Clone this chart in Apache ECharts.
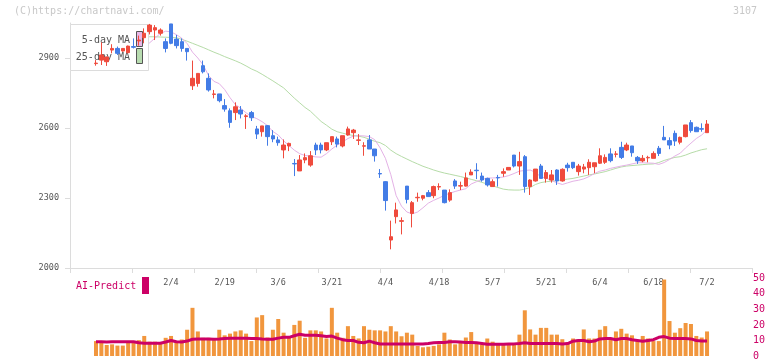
<!DOCTYPE html>
<html><head><meta charset="utf-8">
<script src="https://cdn.jsdelivr.net/npm/echarts@6/dist/echarts.min.js"></script>
<style>html,body{margin:0;padding:0;background:#fff}#c{width:772px;height:361px}</style>
</head><body><div id="c"></div>
<script>
const dates = ['1/15','1/16','1/17','1/20','1/21','1/22','1/23','1/24','1/27','1/28','1/29','1/30','1/31',
'2/3','2/4','2/5','2/6','2/7','2/10','2/12','2/13','2/14','2/17','2/18','2/19','2/20','2/21','2/25','2/26','2/27','2/28',
'3/3','3/4','3/5','3/6','3/7','3/10','3/11','3/12','3/13','3/14','3/17','3/18','3/19','3/21','3/24','3/25','3/26','3/27','3/28','3/31',
'4/1','4/2','4/3','4/4','4/7','4/8','4/9','4/10','4/11','4/14','4/15','4/16','4/17','4/18','4/21','4/22','4/23','4/24','4/25','4/28','4/30',
'5/1','5/2','5/7','5/8','5/9','5/12','5/13','5/14','5/15','5/16','5/19','5/20','5/21','5/22','5/23','5/26','5/27','5/28','5/29','5/30',
'6/2','6/3','6/4','6/5','6/6','6/9','6/10','6/11','6/12','6/13','6/16','6/17','6/18','6/19','6/20','6/23','6/24','6/25','6/26','6/27','6/30',
'7/1','7/2'];
const openP = [2876,2891,2884,2934,2941,2930,2923,2949,2973,2987,3013,3020,3006,2970,3046,2981,2970,2941,2781,2791,2867,2813,2744,2746,2696,2674,2666,2677,2649,2666,2596,2584,2610,2567,2549,2506,2523,2448,2416,2463,2441,2527,2527,2506,2541,2553,2523,2570,2580,2547,2522,2549,2510,2405,2370,2120,2220,2200,2351,2234,2301,2299,2323,2310,2347,2334,2291,2373,2351,2351,2399,2419,2394,2384,2349,2388,2406,2420,2484,2437,2477,2349,2373,2437,2384,2377,2420,2373,2441,2453,2413,2424,2430,2434,2449,2453,2489,2487,2517,2506,2523,2474,2459,2472,2470,2513,2560,2546,2577,2539,2563,2623,2603,2597,2580];
const closeP = [2878,2913,2904,2941,2920,2941,2951,2946,2977,3006,3041,3030,3020,2941,2963,2953,2941,2927,2813,2834,2841,2763,2746,2717,2681,2624,2691,2660,2652,2644,2574,2609,2563,2553,2537,2527,2534,2446,2463,2473,2481,2506,2506,2537,2563,2531,2567,2596,2591,2549,2524,2510,2481,2403,2289,2134,2249,2203,2294,2280,2303,2310,2306,2349,2349,2280,2323,2351,2353,2386,2411,2417,2377,2356,2370,2386,2413,2431,2437,2456,2349,2377,2424,2384,2409,2399,2373,2423,2430,2430,2437,2433,2453,2451,2481,2474,2460,2489,2474,2527,2494,2459,2470,2474,2491,2491,2549,2527,2544,2560,2613,2589,2584,2595,2617];
const lowP = [2867,2870,2866,2920,2913,2927,2920,2941,2953,2963,3001,2977,2996,2924,2959,2941,2927,2889,2763,2777,2834,2756,2727,2710,2670,2601,2634,2641,2596,2630,2553,2563,2524,2539,2524,2470,2501,2394,2416,2449,2434,2484,2491,2501,2527,2517,2517,2567,2553,2527,2481,2510,2456,2386,2246,2080,2191,2144,2277,2174,2284,2290,2306,2299,2334,2277,2284,2339,2334,2349,2399,2381,2370,2349,2349,2349,2391,2420,2431,2399,2323,2313,2370,2384,2366,2366,2356,2370,2413,2424,2396,2406,2399,2406,2446,2446,2453,2474,2467,2501,2477,2446,2453,2453,2470,2480,2549,2509,2523,2530,2560,2580,2584,2584,2580];
const highP = [2891,2967,2906,2959,2949,2941,2953,2984,2996,3027,3046,3041,3027,2984,3046,2999,2984,2941,2889,2834,2889,2834,2763,2746,2724,2684,2710,2694,2659,2673,2609,2609,2613,2591,2563,2551,2537,2467,2484,2491,2501,2537,2537,2537,2563,2563,2567,2606,2596,2574,2539,2570,2510,2424,2372,2203,2280,2217,2351,2287,2323,2313,2334,2353,2363,2334,2337,2381,2370,2409,2423,2449,2409,2387,2380,2399,2427,2431,2484,2498,2484,2380,2424,2446,2420,2420,2423,2427,2451,2453,2446,2446,2466,2451,2513,2487,2513,2501,2541,2537,2523,2480,2484,2481,2500,2523,2609,2560,2589,2563,2613,2634,2606,2620,2634];
const ma5 = [null,null,null,null,null,null,null,null,null,2945,2965,2985,3005,3015,3012,3000,2985,2962,2925,2900,2870,2825,2800,2790,2765,2730,2700,2685,2665,2650,2640,2627,2610,2585,2570,2545,2525,2505,2490,2482,2480,2476,2475,2490,2510,2527,2540,2555,2565,2567,2566,2563,2550,2515,2470,2400,2310,2265,2240,2232,2240,2258,2278,2290,2300,2312,2320,2328,2334,2340,2360,2370,2380,2385,2386,2387,2390,2396,2405,2415,2418,2420,2410,2390,2385,2375,2365,2358,2365,2372,2376,2382,2392,2405,2415,2420,2427,2432,2437,2441,2446,2451,2451,2450,2449,2444,2452,2465,2480,2492,2515,2535,2555,2570,2592];
const ma25 = [null,null,null,null,null,null,null,null,null,2992,2991,2991,2990,2989,2988,2987,2980,2972,2963,2954,2945,2935,2925,2916,2906,2897,2888,2878,2866,2853,2843,2830,2816,2802,2787,2772,2750,2728,2708,2688,2672,2650,2628,2612,2595,2584,2578,2572,2568,2565,2560,2552,2543,2537,2525,2505,2490,2478,2467,2456,2446,2436,2428,2420,2413,2407,2402,2397,2392,2386,2380,2374,2367,2360,2352,2345,2338,2335,2334,2334,2338,2345,2358,2366,2370,2372,2374,2378,2381,2384,2389,2394,2399,2403,2408,2413,2420,2427,2433,2437,2439,2441,2443,2445,2446,2452,2461,2468,2474,2477,2484,2493,2500,2507,2511];
const volume = [9.6,9.6,7.1,7.5,6.7,6.7,9.2,9.2,10.2,12.9,9.2,9.2,8.1,11.7,12.9,9.2,10.6,16.9,31,15.8,11.7,11.7,10.2,16.9,13.3,14.4,15.8,16.5,14.4,9.6,24.8,26.3,11.9,16.9,23.8,15,11.9,20,22.7,11.7,16.5,16.5,15.8,11.3,31,15,11.7,19.2,12.9,11.3,19.2,16.9,16.5,16.5,15.8,19.2,15.8,12.7,15,13.75,6.5,5.6,6,6.5,7.5,15,10.6,7.5,9.6,11.9,15.4,8.75,7.5,11.25,9.2,7.5,7.5,7.5,7.5,13.75,29.4,17.1,13.75,18.1,18.1,13.75,13.75,10.8,8.75,11.25,10.6,17.1,11.25,11.25,16.9,19.2,11.25,15.8,17.5,14.4,13.3,9.6,12.9,11.25,9.6,9.6,49.2,22.5,15,17.9,21.25,20.6,12.9,11.9,15.8];
const aiPredict = [9.2,9.2,9.0,9.2,9.2,9.2,9.2,9.2,8.5,8.2,8.2,8.2,8.2,9.0,10.0,9.2,9.0,9.6,10.8,11.0,11.0,11.0,10.8,11.0,11.3,11.5,11.5,11.5,11.5,11.3,11.3,11.0,10.8,10.8,11.5,12.0,12.0,13.0,14.0,13.3,13.3,13.3,13.0,12.5,12.8,11.5,10.5,10.0,10.0,8.8,8.5,9.6,8.5,7.7,7.7,7.7,7.7,7.7,7.7,7.7,7.7,7.7,8.0,8.5,8.75,8.75,9.2,9.2,9.0,8.75,8.75,8.5,8.0,7.5,7.5,7.5,7.5,7.7,7.8,8.1,8.5,8.1,8.1,8.1,8.1,8.1,8.1,7.7,8.0,9.5,10,10,9.2,9.6,11.0,11.25,11.25,10.5,11.25,11.25,10.5,10.0,9.5,10.0,10.5,12.0,12.5,11.5,11.25,11.25,11.25,11.0,10.0,9.6,9.6];
const priceTicks = [2000,2300,2600,2900];
const volTicks = [0,10,20,30,40,50];
const dateLabelStart = 14, dateLabelStep = 10;

const MONO = 'DejaVu Sans Mono';
const UP = '#ef4b3d', DOWN = '#437ce6';
const candles = dates.map((d, i) => [openP[i], closeP[i], lowP[i], highP[i]]);

const chart = echarts.init(document.getElementById('c'), null, {renderer: 'canvas'});
const gTop = 23, gH = 245;
const cLeft = 93.32, cW = 616.4;
chart.setOption({
  animation: false,
  backgroundColor: '#fff',
  grid: [
    {left: 70, width: 682, top: gTop, height: gH},
    {left: cLeft, width: cW, top: gTop, height: gH},
    {left: cLeft, width: cW, top: 278.3, height: 80}
  ],
  xAxis: [
    {gridIndex: 0, type: 'value', min: 0, max: 11, interval: 1,
     axisLine: {show: true, lineStyle: {color: '#dcdcdc', width: 1}},
     axisTick: {show: true, length: 5, lineStyle: {color: '#dcdcdc'}},
     axisLabel: {show: false}, splitLine: {show: false}},
    {gridIndex: 1, type: 'category', data: dates, boundaryGap: true,
     axisLine: {show: false}, axisTick: {show: false}, splitLine: {show: false},
     axisLabel: {interval: (idx) => idx >= dateLabelStart && (idx - dateLabelStart) % dateLabelStep === 0,
       margin: 10, fontSize: 8.5, color: '#555', fontFamily: MONO}},
    {gridIndex: 2, type: 'category', data: dates, boundaryGap: true, show: false}
  ],
  yAxis: [
    {gridIndex: 0, type: 'value', min: 2000, max: 3050, interval: 300,
     axisLine: {show: true, lineStyle: {color: '#dcdcdc'}},
     axisTick: {show: true, length: 5, lineStyle: {color: '#dcdcdc'}, customValues: priceTicks},
     axisLabel: {margin: 11, fontSize: 8.5, color: '#555', fontFamily: MONO, customValues: priceTicks,
       formatter: (v) => String(v)},
     splitLine: {show: false}},
    {gridIndex: 1, type: 'value', min: 2000, max: 3050, show: false},
    {gridIndex: 2, type: 'value', min: 0, max: 50, interval: 10, position: 'right',
     axisLine: {show: false}, axisTick: {show: false}, splitLine: {show: false},
     axisLabel: {margin: 43.3, fontSize: 10, color: '#cc0066', fontFamily: MONO, customValues: volTicks,
       formatter: (v) => String(v)}}
  ],
  series: [
    {type: 'line', name: '25-day MA', xAxisIndex: 1, yAxisIndex: 1, data: ma25, showSymbol: false, symbol: 'none',
     lineStyle: {color: '#b6dca8', width: 1}, z: 1, silent: true},
    {type: 'line', name: '5-day MA', xAxisIndex: 1, yAxisIndex: 1, data: ma5, showSymbol: false, symbol: 'none',
     lineStyle: {color: '#e4b2e6', width: 1}, z: 1, silent: true},
    {type: 'candlestick', xAxisIndex: 1, yAxisIndex: 1, data: candles, barWidth: 4, clip: false, z: 10,
     itemStyle: {color: UP, color0: DOWN, borderColor: UP, borderColor0: DOWN, borderWidth: 1}},
    {type: 'bar', xAxisIndex: 2, yAxisIndex: 2, data: volume, barWidth: 4, itemStyle: {color: '#f1963d'}, z: 2},
    {type: 'line', xAxisIndex: 2, yAxisIndex: 2, data: aiPredict, showSymbol: false, symbol: 'none',
     lineStyle: {color: '#cc0066', width: 3}, z: 3}
  ],
  graphic: [
    {type: 'text', left: 14, top: 6, z: 20, style: {text: '(C)https://chartnavi.com/', fill: '#c8c8c8', font: '10px "DejaVu Sans Mono"'}},
    {type: 'text', left: 733, top: 6, z: 20, style: {text: '3107', fill: '#c8c8c8', font: '10px "DejaVu Sans Mono"'}},
    {type: 'rect', z: 5, shape: {x: 70.5, y: 24.5, width: 78, height: 46}, style: {fill: '#fff', stroke: '#dcdcdc', lineWidth: 1}},
    {type: 'text', z: 6, x: 130, y: 40, style: {text: '5-day MA', fill: '#555', font: '10px "DejaVu Sans Mono"', align: 'right', verticalAlign: 'middle'}},
    {type: 'text', z: 6, x: 130, y: 57, style: {text: '25-day MA', fill: '#555', font: '10px "DejaVu Sans Mono"', align: 'right', verticalAlign: 'middle'}},
    {type: 'rect', z: 6, shape: {x: 136.5, y: 31.5, width: 6, height: 15}, style: {fill: '#e8b8e8', stroke: '#555', lineWidth: 1}},
    {type: 'rect', z: 6, shape: {x: 136.5, y: 48.5, width: 6, height: 15}, style: {fill: '#b8dcb0', stroke: '#555', lineWidth: 1}},
    {type: 'text', z: 6, x: 76, y: 286, style: {text: 'AI-Predict', fill: '#cc0066', font: '10px "DejaVu Sans Mono"', verticalAlign: 'middle'}},
    {type: 'rect', z: 6, shape: {x: 142, y: 277, width: 7, height: 17}, style: {fill: '#cc0066'}}
  ]
});
</script>
</body></html>
